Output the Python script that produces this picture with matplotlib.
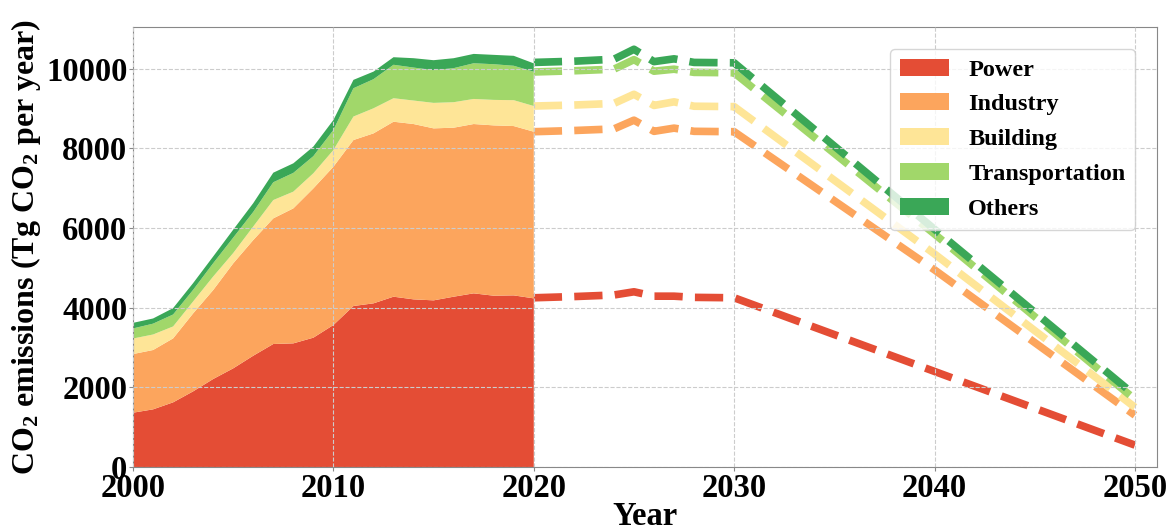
import matplotlib
matplotlib.use("Agg")
import matplotlib.pyplot as plt
import numpy as np

plt.rcParams['font.family'] = ['Liberation Serif', 'DejaVu Serif']
plt.rcParams['font.weight'] = 'bold'
plt.rcParams['mathtext.fontset'] = 'custom'
plt.rcParams['mathtext.rm'] = 'Liberation Serif:bold'
plt.rcParams['mathtext.bf'] = 'Liberation Serif:bold'
plt.rcParams['mathtext.default'] = 'bf'

sectors = ['Power', 'Industry', 'Building', 'Transportation', 'Others']
colors = ['#e44d35', '#fca55d', '#fee597', '#a1d76a', '#3aa757']

# historical emissions by sector, 2000-2020
hist_years = list(range(2000, 2021))
power = [1364, 1448, 1624, 1900, 2210, 2478, 2795, 3089, 3105, 3248, 3566,
         4043, 4110, 4277, 4210, 4185, 4277, 4361, 4302, 4310, 4235]
industry = [1473, 1490, 1606, 1958, 2234, 2636, 2905, 3155, 3390, 3749, 3975,
            4168, 4268, 4394, 4403, 4319, 4244, 4252, 4277, 4252, 4185]
building = [390, 390, 300, 300, 340, 260, 340, 460, 420, 380, 420,
            590, 630, 590, 590, 640, 640, 630, 640, 650, 645]
transport = [253, 272, 300, 291, 333, 386, 366, 447, 471, 430, 503,
             711, 731, 840, 828, 822, 855, 896, 896, 864, 861]
others = [140, 130, 160, 170, 170, 200, 220, 240, 240, 240, 250,
          210, 190, 190, 235, 250, 250, 235, 235, 250, 210]

# projected cumulative totals (top of each sector), 2020-2050
proj_years = [2020, 2022, 2024, 2025, 2026, 2027, 2028, 2030, 2040, 2050]
proj_power = [4250, 4280, 4320, 4400, 4290, 4290, 4260, 4250, 2400, 550]
proj_industry = [8420, 8450, 8490, 8710, 8430, 8510, 8430, 8420, 4950, 1300]
proj_building = [9065, 9090, 9130, 9360, 9080, 9170, 9060, 9050, 5350, 1500]
proj_transport = [9920, 9950, 9990, 10230, 9940, 9990, 9910, 9900, 5850, 1700]
proj_others = [10160, 10190, 10240, 10490, 10180, 10250, 10160, 10150, 5970, 1800]

fig = plt.figure(figsize=(11.69, 5.28), dpi=100)
ax = fig.add_axes([0.1138, 0.1155, 0.8759, 0.8334])

ax.stackplot(hist_years, power, industry, building, transport, others,
             colors=colors, labels=sectors, linewidth=0)

proj = [proj_power, proj_industry, proj_building, proj_transport, proj_others]
for vals, c in zip(proj, colors):
    ax.plot(proj_years, vals, color=c, linestyle='--', linewidth=5.5)

ax.set_xlim(2000, 2051.1)
ax.set_ylim(0, 11050)
ax.set_xticks([2000, 2010, 2020, 2030, 2040, 2050])
ax.set_yticks([0, 2000, 4000, 6000, 8000, 10000])
ax.tick_params(labelsize=23.5, length=3, color='#888888', pad=1)
for lab in ax.get_xticklabels() + ax.get_yticklabels():
    lab.set_fontweight('bold')

ax.grid(True, linestyle='--', color='#cccccc', linewidth=0.8)
ax.set_axisbelow(False)
for sp in ax.spines.values():
    sp.set_color('#888888')

ax.set_xlabel('Year', fontsize=23.5, fontweight='bold', labelpad=-2)
ax.set_ylabel(r'CO$_2$ emissions (Tg CO$_2$ per year)', fontsize=23,
              fontweight='bold', labelpad=2)

leg = ax.legend(loc='upper right', fontsize=17.5, handlelength=2.0,
                handleheight=0.7, labelspacing=0.53, borderaxespad=0.9,
                handletextpad=0.8, borderpad=0.4)
for t in leg.get_texts():
    t.set_fontweight('bold')

fig.savefig('out.png', dpi=100)
